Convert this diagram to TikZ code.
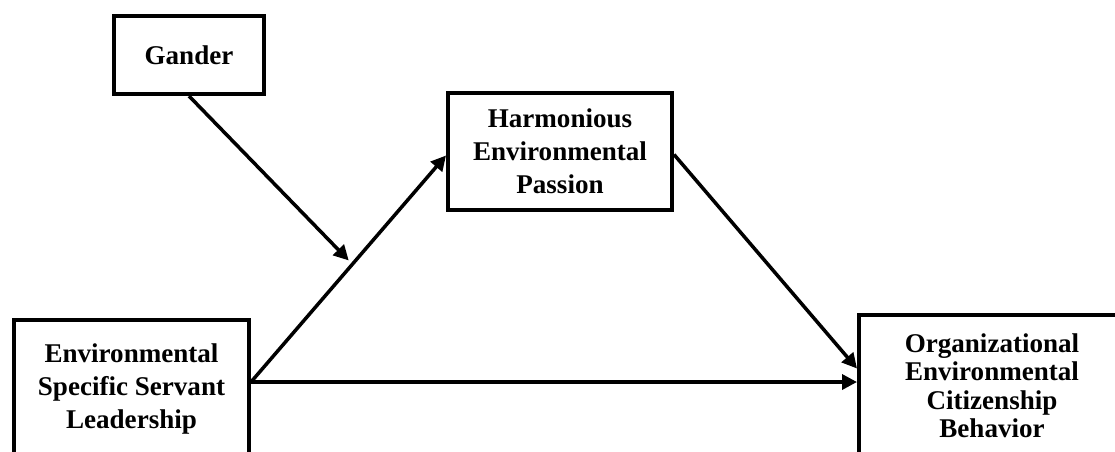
\documentclass[tikz,border=0pt]{standalone}
\usepackage{fontspec}
\setmainfont{Liberation Serif}
\usetikzlibrary{arrows.meta, positioning, calc}
\tikzset{
  construct/.style={
    draw=black, line width=2.3pt, fill=white, inner sep=0pt,
    align=center, font=\fontsize{15.4}{18.7}\selectfont\bfseries
  },
  flow/.style={-{Triangle[length=8.5pt, width=8.5pt]}, line width=2pt, draw=black},
}

\begin{document}
\begin{tikzpicture}[x=0.02cm, y=-0.02cm]
  \clip (0,0) rectangle (1115,451);
  \node[construct, minimum width=3.0cm, minimum height=1.56cm] (gander) at (189,55) {Gander};
  \node[construct, minimum width=4.48cm, minimum height=2.34cm] (harm) at (560,151.5)
    {Harmonious\\Environmental\\Passion};
  \node[construct, minimum width=4.7cm, minimum height=2.76cm] (essl) at (131.5,389)
    {Environmental\\Specific Servant\\Leadership};
  \node[construct, minimum width=5.32cm, minimum height=2.82cm,
    font=\fontsize{15.4}{16.2}\selectfont\bfseries] (oecb) at (992,385.5)
    {Organizational\\Environmental\\Citizenship\\Behavior};

  \coordinate (esslout) at ($(essl.east)+(0,-7)$);
  \coordinate (harmin)  at ($(harm.west)+(0,4)$);
  \coordinate (harmout) at ($(harm.east)+(0,3)$);
  \coordinate (oecbin)  at ($(oecb.west)+(0,-17)$);
  \coordinate (mod)     at ($(esslout)!0.52!(harmin)$);

  \draw[flow] (esslout) -- (harmin);
  \draw[flow] (harmout) -- (oecbin);
  \draw[flow] (esslout) -- (esslout -| oecb.west);
  \draw[flow, shorten >=3pt] (gander.south) -- (mod);
\end{tikzpicture}
\end{document}
